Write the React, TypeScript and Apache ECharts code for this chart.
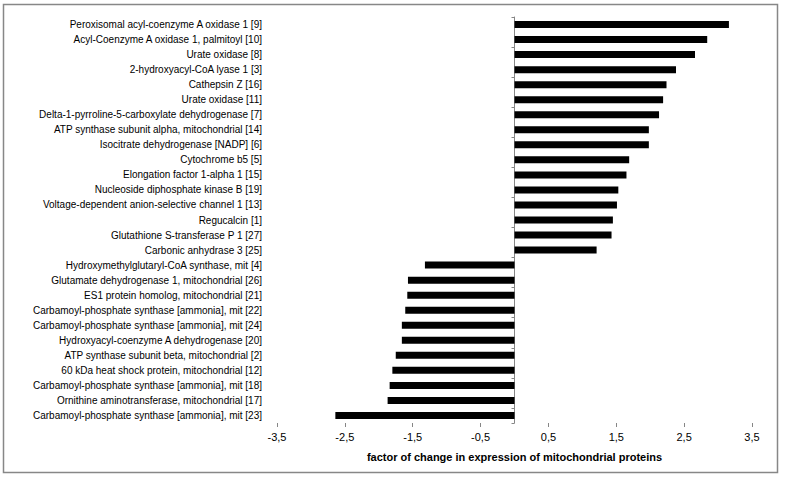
import React, { useEffect, useRef } from "react";
import * as echarts from "echarts";

const categories: string[] = [
  "Peroxisomal acyl-coenzyme A oxidase 1 [9]",
  "Acyl-Coenzyme A oxidase 1, palmitoyl [10]",
  "Urate oxidase [8]",
  "2-hydroxyacyl-CoA lyase 1 [3]",
  "Cathepsin Z [16]",
  "Urate oxidase [11]",
  "Delta-1-pyrroline-5-carboxylate dehydrogenase [7]",
  "ATP synthase subunit alpha, mitochondrial [14]",
  "Isocitrate dehydrogenase [NADP] [6]",
  "Cytochrome b5 [5]",
  "Elongation factor 1-alpha 1 [15]",
  "Nucleoside diphosphate kinase B [19]",
  "Voltage-dependent anion-selective channel 1 [13]",
  "Regucalcin [1]",
  "Glutathione S-transferase P 1 [27]",
  "Carbonic anhydrase 3 [25]",
  "Hydroxymethylglutaryl-CoA synthase, mit [4]",
  "Glutamate dehydrogenase 1, mitochondrial [26]",
  "ES1 protein homolog, mitochondrial [21]",
  "Carbamoyl-phosphate synthase [ammonia], mit [22]",
  "Carbamoyl-phosphate synthase [ammonia], mit [24]",
  "Hydroxyacyl-coenzyme A dehydrogenase [20]",
  "ATP synthase subunit beta, mitochondrial [2]",
  "60 kDa heat shock protein, mitochondrial [12]",
  "Carbamoyl-phosphate synthase [ammonia], mit [18]",
  "Ornithine aminotransferase, mitochondrial [17]",
  "Carbamoyl-phosphate synthase [ammonia], mit [23]",
];

const values: number[] = [
  3.16, 2.84, 2.66, 2.38, 2.24, 2.19, 2.13, 1.98, 1.98, 1.69, 1.65, 1.53, 1.51,
  1.45, 1.43, 1.21, -1.32, -1.57, -1.58, -1.61, -1.66, -1.66, -1.75, -1.8,
  -1.84, -1.87, -2.64,
];

const xTicks: number[] = [-3.5, -2.5, -1.5, -0.5, 0.5, 1.5, 2.5, 3.5];

const axisTitle = "factor of change in expression of mitochondrial proteins";

const FONT = "'Liberation Sans', Arial, sans-serif";
const AXIS_GRAY = "#868686";

export default function App() {
  const ref = useRef<HTMLDivElement>(null);

  useEffect(() => {
    if (!ref.current) return;
    const chart = echarts.init(ref.current, null, { renderer: "svg" });
    chart.setOption({
      animation: false,
      backgroundColor: "#ffffff",
      textStyle: { fontFamily: FONT },
      graphic: [
        {
          type: "rect",
          shape: { x: 3.5, y: 4.5, width: 774, height: 468 },
          style: { fill: "none", stroke: "#878787", lineWidth: 1.5 },
          silent: true,
        },
      ],
      grid: { left: 277, right: 33, top: 17, bottom: 57 },
      xAxis: {
        type: "value",
        min: -3.5,
        max: 3.5,
        name: axisTitle,
        nameLocation: "middle",
        nameGap: 28,
        nameTextStyle: {
          fontFamily: FONT,
          fontSize: 11,
          fontWeight: "bold",
          color: "#000",
        },
        splitLine: { show: false },
        axisLine: { onZero: false, lineStyle: { color: AXIS_GRAY, width: 1 } },
        axisTick: {
          show: true,
          length: 4,
          customValues: xTicks,
          lineStyle: { color: AXIS_GRAY },
        },
        axisLabel: {
          customValues: xTicks,
          fontFamily: FONT,
          fontSize: 11,
          color: "#000",
          margin: 8,
          formatter: (v: number) => v.toFixed(1).replace(".", ","),
        },
      },
      yAxis: [
        {
          type: "category",
          data: categories,
          inverse: true,
          position: "left",
          axisLine: { show: false, onZero: false },
          axisTick: { show: false },
          axisLabel: {
            fontFamily: FONT,
            fontSize: 10,
            color: "#000",
            margin: 15,
          },
          splitLine: { show: false },
        },
        {
          type: "category",
          data: categories,
          inverse: true,
          position: "left",
          axisLine: { show: true, onZero: true, lineStyle: { color: AXIS_GRAY, width: 1 } },
          axisTick: { show: true, length: 3, lineStyle: { color: AXIS_GRAY } },
          axisLabel: { show: false },
          splitLine: { show: false },
        },
      ],
      series: [
        {
          type: "bar",
          yAxisIndex: 0,
          data: values,
          barWidth: 7,
          itemStyle: { color: "#000000" },
          silent: true,
        },
      ],
    });
    return () => chart.dispose();
  }, []);

  return (
    <div
      ref={ref}
      style={{ position: "fixed", left: 0, top: 0, width: 785, height: 480 }}
    />
  );
}
